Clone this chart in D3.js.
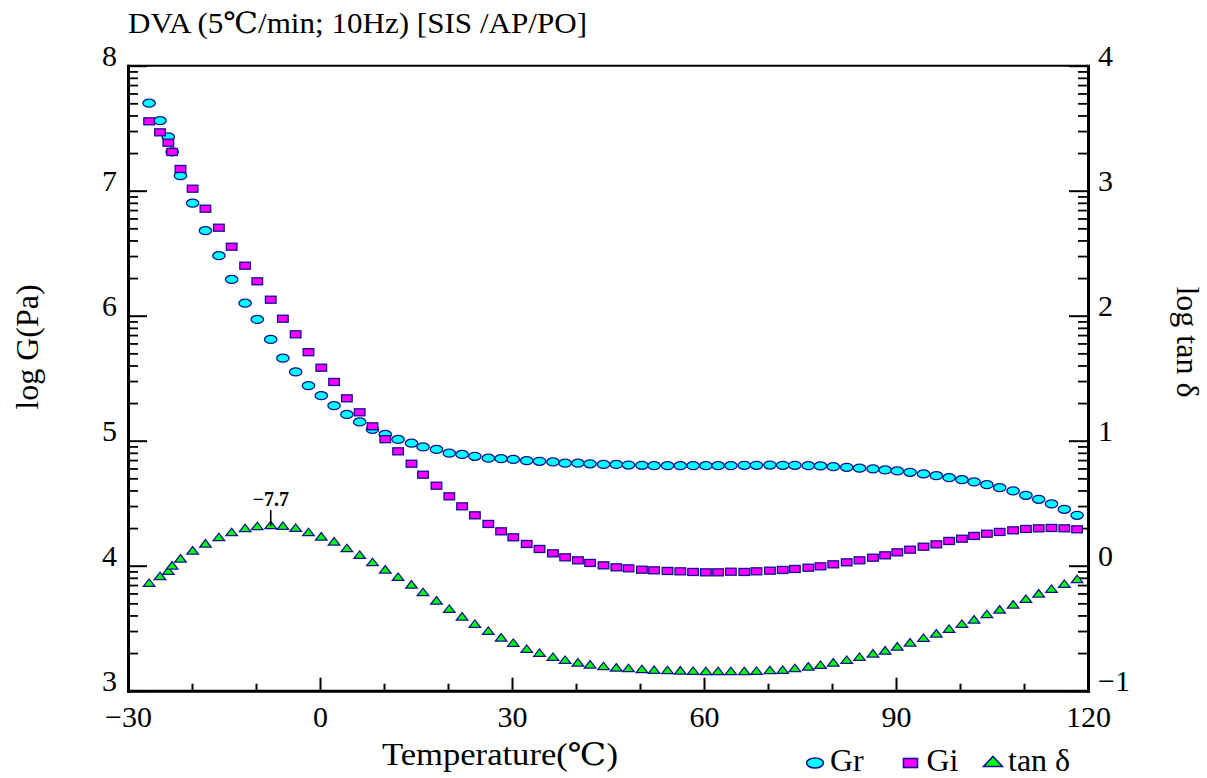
<!DOCTYPE html>
<html><head><meta charset="utf-8">
<script src="https://cdn.jsdelivr.net/npm/d3@7"></script>
<style>
html,body{margin:0;padding:0;background:#fff;}
svg text{font-family:"Liberation Serif","DejaVu Serif",serif;fill:#000;}
</style></head><body>
<svg id="chart" width="1207" height="778"></svg>
<script>
// Temperature sweep (°C)
const temps = [-26.7,-25.0,-23.7,-23.1,-21.8,-19.9,-17.9,-15.8,-13.8,-11.7,
  -9.8,-7.7,-5.8,-3.8,-1.8,0.2,2.2,4.2,6.2,8.2,
  10.2,12.2,14.3,16.1,18.2,20.2,22.2,24.2,26.3,28.3,
  30.2,32.3,34.3,36.4,38.3,40.3,42.2,44.3,46.3,48.2,
  50.3,52.2,54.3,56.3,58.3,60.3,62.2,64.2,66.3,68.2,
  70.3,72.3,74.2,76.3,78.2,80.2,82.3,84.3,86.4,88.3,
  90.2,92.2,94.3,96.3,98.3,100.3,102.2,104.2,106.2,108.3,
  110.3,112.3,114.3,116.3,118.3];
// log G' (storage), Pa
const grLog = [7.70,7.56,7.43,7.31,7.12,6.90,6.68,6.48,6.29,6.10,
  5.97,5.81,5.66,5.55,5.44,5.36,5.28,5.21,5.15,5.09,
  5.05,5.01,4.98,4.95,4.93,4.90,4.89,4.875,4.86,4.856,
  4.85,4.84,4.835,4.83,4.82,4.82,4.815,4.81,4.81,4.805,
  4.803,4.80,4.80,4.80,4.80,4.80,4.80,4.80,4.803,4.803,
  4.805,4.803,4.803,4.80,4.798,4.792,4.787,4.78,4.774,4.766,
  4.758,4.747,4.734,4.72,4.704,4.688,4.67,4.648,4.624,4.598,
  4.563,4.531,4.494,4.451,4.403];
// log G'' (loss), Pa
const giLog = [7.555,7.467,7.384,7.31,7.174,7.016,6.856,6.704,6.552,6.40,
  6.275,6.128,5.976,5.851,5.708,5.584,5.47,5.339,5.227,5.115,
  5.012,4.915,4.816,4.728,4.64,4.555,4.475,4.403,4.334,4.275,
  4.227,4.174,4.134,4.099,4.067,4.043,4.022,4.003,3.987,3.979,
  3.968,3.963,3.958,3.955,3.950,3.947,3.947,3.952,3.950,3.955,
  3.960,3.966,3.974,3.984,3.995,4.011,4.027,4.043,4.064,4.083,
  4.107,4.128,4.152,4.171,4.198,4.216,4.238,4.256,4.270,4.283,
  4.294,4.299,4.302,4.299,4.291];
// log tan δ
const tanLog = [-0.136,-0.082,-0.04,0.003,0.059,0.123,0.179,0.23,0.27,0.302,
  0.318,0.326,0.32,0.304,0.27,0.235,0.195,0.142,0.088,0.03,
  -0.029,-0.088,-0.149,-0.21,-0.277,-0.344,-0.405,-0.464,-0.52,-0.573,
  -0.616,-0.664,-0.696,-0.728,-0.752,-0.773,-0.789,-0.802,-0.813,-0.818,
  -0.826,-0.832,-0.834,-0.837,-0.84,-0.842,-0.842,-0.842,-0.842,-0.84,
  -0.834,-0.832,-0.818,-0.805,-0.792,-0.773,-0.752,-0.728,-0.701,-0.677,
  -0.645,-0.613,-0.576,-0.541,-0.504,-0.464,-0.429,-0.386,-0.349,-0.309,
  -0.264,-0.221,-0.184,-0.144,-0.106];

const leftTicks = [3,4,5,6,7,8];
const rightTicks = [-1,0,1,2,3,4];
const tempTicks = [-30,0,30,60,90,120];
const tempMinor = [-20,-10,10,20,40,50,70,80,100,110];
const seriesNames = ["Gr","Gi","tan δ"];
const chartTitle = "DVA (5℃/min; 10Hz) [SIS /AP/PO]";

const W = 1207, H = 778;
const box = {left:128, right:1088, top:65.7, bottom:690.7};
const x = d3.scaleLinear().domain([-30,120]).range([box.left, box.right]);
const yL = d3.scaleLinear().domain([3,8]).range([box.bottom, box.top]);
const yR = d3.scaleLinear().domain([-1,4]).range([box.bottom, box.top]);

const INK = "#000", EDGE = "#101090";
const svg = d3.select("#chart");
svg.append("rect").attr("width", W).attr("height", H).attr("fill", "#fff");

// minor ticks at log10(2..9) inside every decade
function logMinor(lo, hi){
  const out = [];
  for (let d = lo; d < hi; d++) for (let k = 2; k <= 9; k++) out.push(d + Math.log10(k));
  return out;
}
function plainTicks(g, w){
  g.select(".domain").remove();
  g.selectAll(".tick line").attr("stroke", INK).attr("stroke-width", w);
}
function mainAxis(g){
  g.select(".domain").attr("stroke", INK).attr("stroke-width", 3).attr("stroke-linecap", "square");
  g.selectAll(".tick line").attr("stroke", INK).attr("stroke-width", 2);
  g.selectAll(".tick text").style("font-size", "30px");
}

// top frame line
svg.append("line").attr("x1", x(-30)).attr("x2", x(120))
  .attr("y1", yL(8)).attr("y2", yL(8)).attr("stroke", INK).attr("stroke-width", 2);

// left axis (log G)
svg.append("g").attr("transform", `translate(${box.left},0)`)
  .call(d3.axisLeft(yL).tickValues(logMinor(3, 8)).tickSizeInner(-10).tickSizeOuter(0).tickFormat(""))
  .call(g => plainTicks(g, 1.8));
svg.append("g").attr("transform", `translate(${box.left},0)`)
  .call(d3.axisLeft(yL).tickValues(leftTicks).tickSizeInner(-19).tickSizeOuter(0).tickPadding(11).tickFormat(d3.format("d")))
  .call(mainAxis)
  .call(g => g.selectAll(".tick text").attr("dy", 0));

// right axis (log tan δ)
svg.append("g").attr("transform", `translate(${box.right},0)`)
  .call(d3.axisRight(yR).tickValues(logMinor(-1, 4)).tickSizeInner(-10).tickSizeOuter(0).tickFormat(""))
  .call(g => plainTicks(g, 1.8));
svg.append("g").attr("transform", `translate(${box.right},0)`)
  .call(d3.axisRight(yR).tickValues(rightTicks).tickSizeInner(-19).tickSizeOuter(0).tickPadding(10).tickFormat(d3.format("d")))
  .call(mainAxis)
  .call(g => g.selectAll(".tick text").attr("dy", 0));

// bottom axis (temperature)
svg.append("g").attr("transform", `translate(0,${box.bottom})`)
  .call(d3.axisBottom(x).tickValues(tempMinor).tickSizeInner(-7).tickSizeOuter(0).tickFormat(""))
  .call(g => plainTicks(g, 2));
svg.append("g").attr("transform", `translate(0,${box.bottom})`)
  .call(d3.axisBottom(x).tickValues(tempTicks).tickSizeInner(-13).tickSizeOuter(0).tickPadding(15).tickFormat(d3.format("d")))
  .call(mainAxis);

// titles
svg.append("text").attr("x", 128).attr("y", 33)
  .attr("textLength", 459).attr("lengthAdjust", "spacingAndGlyphs")
  .style("font-size", "29px").text(chartTitle);
svg.append("text").attr("x", 500).attr("y", 765).attr("text-anchor", "middle")
  .attr("textLength", 236).attr("lengthAdjust", "spacingAndGlyphs")
  .style("font-size", "31px").text("Temperature(℃)");
svg.append("text").attr("transform", "translate(38,347) rotate(-90)").attr("text-anchor", "middle")
  .style("font-size", "32px").text("log G(Pa)");
svg.append("text").attr("transform", "translate(1177,342) rotate(90)").attr("text-anchor", "middle")
  .style("font-size", "32px").text("log tan δ");

// marker shapes
const tri = (w, h) => `M${-w/2},${h/2}L${w/2},${h/2}L0,${-h/2}Z`;
const rows = temps.map((t, i) => ({t, gr: grLog[i], gi: giLog[i], td: tanLog[i]}));
const plot = svg.append("g").attr("stroke", EDGE).attr("stroke-width", 1.3);

plot.append("g").selectAll("ellipse").data(rows).join("ellipse")
  .attr("cx", d => x(d.t)).attr("cy", d => yL(d.gr))
  .attr("rx", 6.2).attr("ry", 4).attr("fill", "#00ffff");
plot.append("g").selectAll("rect").data(rows).join("rect")
  .attr("x", d => x(d.t) - 5.3).attr("y", d => yL(d.gi) - 3.5)
  .attr("width", 10.6).attr("height", 7).attr("fill", "#ff00ff");
plot.append("g").selectAll("path").data(rows).join("path")
  .attr("transform", d => `translate(${x(d.t)},${yR(d.td)})`)
  .attr("d", tri(11.5, 7.5)).attr("fill", "#00ff00");

// tan δ peak annotation
const iPeak = d3.maxIndex(tanLog);
const px = x(temps[iPeak]), py = yR(tanLog[iPeak]);
svg.append("line").attr("x1", px).attr("x2", px).attr("y1", py + 1).attr("y2", py - 15)
  .attr("stroke", INK).attr("stroke-width", 1.6);
svg.append("text").attr("x", px).attr("y", py - 19).attr("text-anchor", "middle")
  .style("font-size", "20px").style("font-weight", "bold")
  .text(d3.format(".1f")(temps[iPeak]));

// legend
const lg = svg.append("g");
const legendX = [815, 910.5, 993];
const legendY = 763;
lg.append("ellipse").attr("cx", legendX[0]).attr("cy", legendY).attr("rx", 8.5).attr("ry", 5)
  .attr("fill", "#00ffff").attr("stroke", EDGE).attr("stroke-width", 1.6);
lg.append("rect").attr("x", legendX[1] - 7).attr("y", legendY - 4.5).attr("width", 14).attr("height", 9)
  .attr("fill", "#ff00ff").attr("stroke", EDGE).attr("stroke-width", 1.6);
lg.append("path").attr("transform", `translate(${legendX[2]},${legendY - 1.5})`).attr("d", tri(19, 10))
  .attr("fill", "#00ff00").attr("stroke", EDGE).attr("stroke-width", 1.6);
lg.selectAll("text").data(seriesNames).join("text")
  .attr("x", (d, i) => legendX[i] + [15, 16, 15][i]).attr("y", 771)
  .style("font-size", "32px").text(d => d);
</script>
</body></html>
